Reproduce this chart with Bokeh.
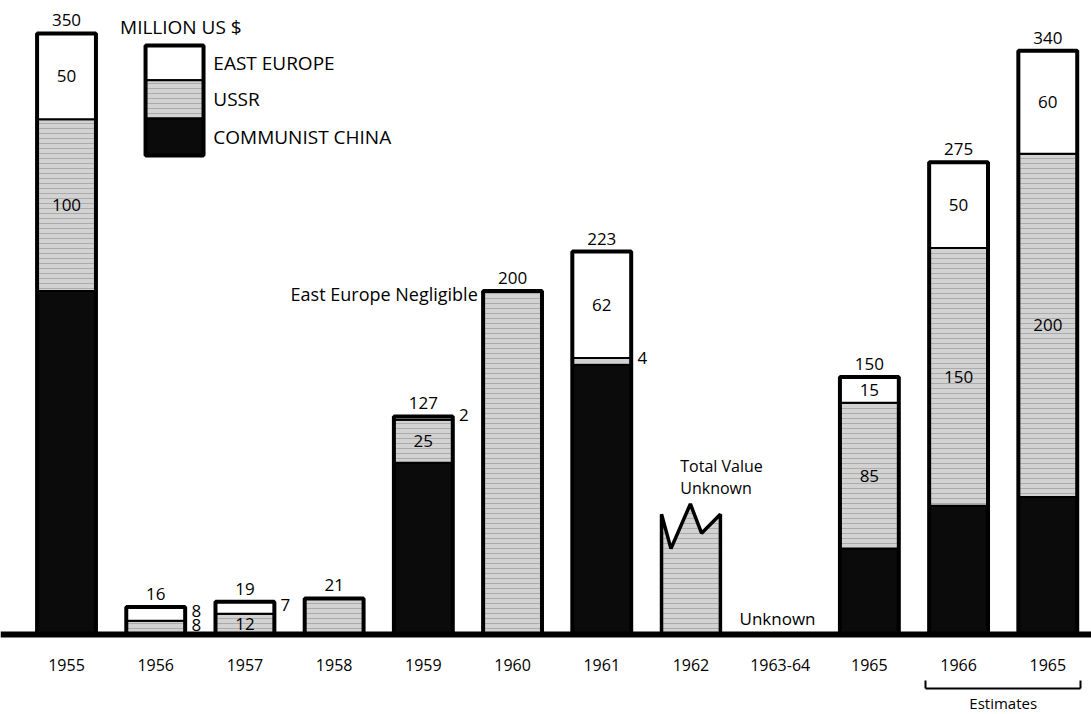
import numpy as np
from bokeh.plotting import figure
from bokeh.models import (Range1d, FixedTicker, LinearAxis, ColumnDataSource, Label)
from bokeh.core.properties import value
from bokeh.embed import file_html
from bokeh.resources import INLINE

# ---------------- data ----------------
years = ["1955", "1956", "1957", "1958", "1959", "1960", "1961", "1962",
         "1963-64", "1965", "1966", "1965"]
china = [200, 0, 0, 0, 100, 0, 157, 0, 0, 50, 75, 80]
ussr = [100, 8, 12, 21, 25, 200, 4, 0, 0, 85, 150, 200]
east_europe = [50, 8, 7, 0, 2, 0, 62, 0, 0, 15, 50, 60]
totals = [350, 16, 19, 21, 127, 200, 223, None, None, 150, 275, 340]
# 1962: total value unknown, broken (zig-zag) top
zigzag_1962 = [70, 50, 76, 59, 70]
zigzag_frac = [0.0, 0.16, 0.49, 0.68, 1.0]
series_names = ["EAST EUROPE", "USSR", "COMMUNIST CHINA"]

# ---------------- style ----------------
FONT = "Open Sans"
W = 0.66
C_CHINA = "#0b0b0b"
C_USSR = "#d2d2d2"
C_EE = "#ffffff"
HATCH = dict(hatch_pattern="horizontal_line", hatch_color="#8a8a8a",
             hatch_scale=5, hatch_weight=1, hatch_alpha=0.55)

p = figure(width=1091, height=714, output_backend="svg", toolbar_location=None,
           x_range=Range1d(-0.74, 11.49), y_range=Range1d(-46.6, 369.2),
           min_border_left=0, min_border_right=0, min_border_top=0,
           min_border_bottom=0)
p.background_fill_color = "white"
p.border_fill_color = "white"
p.outline_line_color = None
p.grid.visible = False
p.yaxis.visible = False

x = np.arange(len(years), dtype=float)
ch = np.array(china, float)
us = np.array(ussr, float)
ee = np.array(east_europe, float)
c_top = ch
u_top = ch + us
e_top = u_top + ee


def seg_source(vals, bottom, top):
    m = vals > 0
    return ColumnDataSource(dict(x=x[m], bottom=bottom[m], top=top[m]))


p.vbar(x="x", width=W, bottom="bottom", top="top",
       source=seg_source(ch, np.zeros_like(ch), c_top),
       fill_color=C_CHINA, line_color="black", line_width=2)
p.vbar(x="x", width=W, bottom="bottom", top="top",
       source=seg_source(us, c_top, u_top),
       fill_color=C_USSR, line_color="black", line_width=2, **HATCH)
p.vbar(x="x", width=W, bottom="bottom", top="top",
       source=seg_source(ee, u_top, e_top),
       fill_color=C_EE, line_color="black", line_width=2)

# heavy outline around each known total
tot_idx = [i for i, t in enumerate(totals) if t is not None]
p.vbar(x=[x[i] for i in tot_idx], top=[totals[i] for i in tot_idx], bottom=0,
       width=W, fill_color=None, line_color="black", line_width=4)

# 1962 broken-top bar
i62 = years.index("1962")
zx = [x[i62] - W / 2 + f * W for f in zigzag_frac]
p.patch([zx[0]] + zx + [zx[-1]], [0] + zigzag_1962 + [0],
        fill_color=C_USSR, line_color="black", line_width=3.5, **HATCH)

TXT = dict(text_font=value(FONT), text_color="black")

# total labels
p.text(x=[x[i] for i in tot_idx], y=[totals[i] for i in tot_idx],
       text=[str(totals[i]) for i in tot_idx], y_offset=-7,
       text_align="center", text_baseline="bottom", text_font_size="17px", **TXT)

# segment labels
in_x, in_y, in_t, out_x, out_y, out_t = [], [], [], [], [], []
for i in range(len(years)):
    nz = sum(1 for v in (ch[i], us[i], ee[i]) if v > 0)
    if nz < 2:
        continue
    for v, b in ((us[i], c_top[i]), (ee[i], u_top[i])):
        if v <= 0:
            continue
        if v >= 10:
            in_x.append(x[i]); in_y.append(b + v / 2); in_t.append(str(int(v)))
        else:
            out_x.append(x[i] + W / 2 + 0.07); out_y.append(b + v / 2); out_t.append(str(int(v)))
p.text(x=in_x, y=in_y, text=in_t, text_align="center", text_baseline="middle",
       text_font_size="17px", **TXT)
p.text(x=out_x, y=out_y, text=out_t, text_align="left", text_baseline="middle",
       y_offset=-3, text_font_size="17px", **TXT)


def label(xv, yv, t, align="left", size="17px"):
    p.add_layout(Label(x=xv, y=yv, text=t, text_align=align, text_baseline="middle",
                       text_font=FONT, text_font_size=size, text_color="black"))


label(4.61, 198.5, "East Europe Negligible", "right", "18px")
label(6.88, 98, "Total Value", "left", "16px")
label(6.88, 85.5, "Unknown", "left", "16px")
label(7.97, 9.5, "Unknown", "center", "17px")
label(0.6, 354, "MILLION US $", "left", "19px")

# legend block: three contiguous swatches with labels
LG_X0, LG_X1 = 0.886, 1.536
lg_edges = [343.0, 322.7, 300.5, 279.0]
lg_colors = [C_EE, C_USSR, C_CHINA]
for k in range(3):
    extra = HATCH if k == 1 else {}
    p.quad(left=LG_X0, right=LG_X1, top=lg_edges[k], bottom=lg_edges[k + 1],
           fill_color=lg_colors[k], line_color="black", line_width=2, **extra)
    label(LG_X1 + 0.11, (lg_edges[k] + lg_edges[k + 1]) / 2, series_names[k], "left", "19px")
p.quad(left=LG_X0, right=LG_X1, top=lg_edges[0], bottom=lg_edges[-1],
       fill_color=None, line_color="black", line_width=4)

# main x axis (drawn at y = 0)
ax = p.xaxis[0]
ax.fixed_location = 0
ax.ticker = FixedTicker(ticks=list(range(len(years))))
ax.major_label_overrides = {i: years[i] for i in range(len(years))}
ax.axis_line_width = 6
ax.axis_line_color = "black"
ax.major_tick_line_color = None
ax.minor_tick_line_color = None
ax.major_tick_out = 0
ax.major_tick_in = 0
ax.major_label_standoff = 25
ax.major_label_text_font = FONT
ax.major_label_text_font_size = "16px"
ax.major_label_text_color = "black"

# "Estimates" bracket axis
est = LinearAxis(ticker=FixedTicker(ticks=[10.5], minor_ticks=[9.63, 11.37]),
                 bounds=(9.63, 11.37), fixed_location=-31.4)
est.major_label_overrides = {10.5: "Estimates"}
est.axis_line_width = 2
est.axis_line_color = "black"
est.major_tick_line_color = None
est.major_tick_out = 0
est.major_tick_in = 0
est.minor_tick_line_color = "black"
est.minor_tick_line_width = 2
est.minor_tick_in = 8
est.minor_tick_out = 0
est.major_label_standoff = 5
est.major_label_text_font = FONT
est.major_label_text_font_size = "15px"
est.major_label_text_color = "black"
p.add_layout(est, "below")

open("out.html", "w").write(file_html(p, INLINE))
